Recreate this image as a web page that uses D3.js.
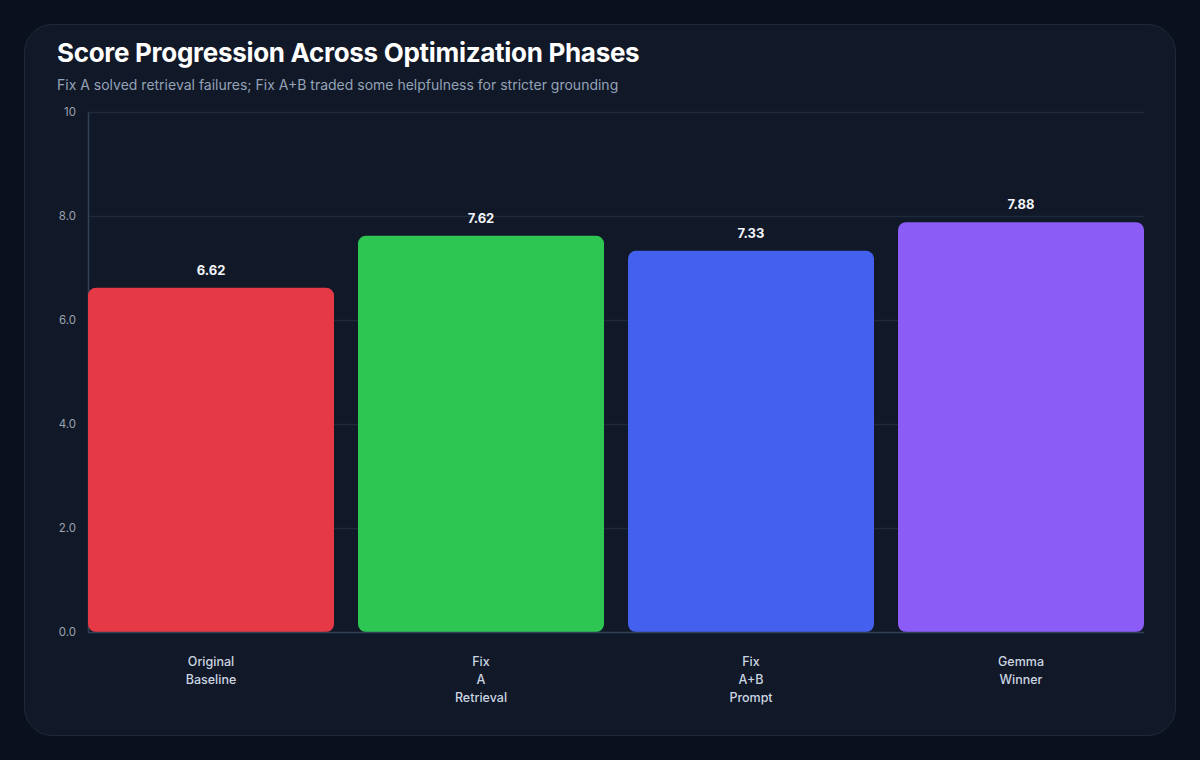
<!DOCTYPE html>
<html>
<head>
<meta charset="utf-8">
<script src="https://cdn.jsdelivr.net/npm/d3@7"></script>
<style>
  html, body { margin: 0; padding: 0; background: #0b111c; }
  svg { display: block; font-family: Inter, "Noto Sans", sans-serif; }
</style>
</head>
<body>
<svg id="chart" width="1200" height="760"></svg>
<script>
/* ---------------- DATA ---------------- */
const phases = ["Original Baseline", "Fix A Retrieval", "Fix A+B Prompt", "Gemma Winner"];
const scores = [6.62, 7.62, 7.33, 7.88];
const barColors = ["#e63946", "#2dc653", "#4361ee", "#8b5cf6"];
const yTicks = [0, 2, 4, 6, 8, 10];

/* ---------------- SVG SETUP ---------------- */
const svg = d3.select("#chart");
const W = 1200, H = 760;
const plot = { left: 88, right: 1144, top: 112, bottom: 632 };

svg.append("rect").attr("width", W).attr("height", H).attr("fill", "#0b111c");

/* card */
svg.append("rect")
  .attr("x", 24.5).attr("y", 24.5)
  .attr("width", 1151).attr("height", 711)
  .attr("rx", 28)
  .attr("fill", "#111827")
  .attr("stroke", "#1f2937")
  .attr("stroke-width", 1);

/* ---------------- TITLES ---------------- */
svg.append("text")
  .attr("x", 57).attr("y", 62)
  .attr("fill", "#ffffff")
  .attr("font-size", 26)
  .attr("font-weight", 700)
  .attr("letter-spacing", -0.3)
  .text("Score Progression Across Optimization Phases");

svg.append("text")
  .attr("x", 57).attr("y", 90)
  .attr("fill", "#94a3b8")
  .attr("font-size", 14)
  .text("Fix A solved retrieval failures; Fix A+B traded some helpfulness for stricter grounding");

/* ---------------- SCALES ---------------- */
const x = d3.scaleBand()
  .domain(phases)
  .range([plot.left, plot.right])
  .paddingInner(24 / 270)
  .paddingOuter(0);

const y = d3.scaleLinear()
  .domain([0, 10])
  .range([plot.bottom, plot.top]);

/* ---------------- GRID ---------------- */
svg.append("g")
  .selectAll("line")
  .data(yTicks.filter(t => t > 0))
  .enter()
  .append("line")
  .attr("x1", plot.left).attr("x2", plot.right)
  .attr("y1", d => y(d) + 0.5).attr("y2", d => y(d) + 0.5)
  .attr("stroke", "#1e293b")
  .attr("stroke-width", 1.5);

/* ---------------- Y AXIS ---------------- */
const yAxis = svg.append("g")
  .attr("transform", `translate(${plot.left},0)`)
  .call(d3.axisLeft(y).tickValues(yTicks).tickSize(0).tickPadding(12)
    .tickFormat(d => d === 10 ? "10" : d3.format(".1f")(d)));
yAxis.select(".domain").attr("stroke", "#334155").attr("stroke-width", 1.5);
yAxis.selectAll("text")
  .attr("fill", "#9ca3af")
  .attr("font-size", 11.5)
  .attr("font-family", "Inter, sans-serif");

/* ---------------- BARS ---------------- */
const rows = phases.map((p, i) => ({ phase: p, score: scores[i], color: barColors[i] }));

svg.append("g")
  .selectAll("rect")
  .data(rows)
  .enter()
  .append("rect")
  .attr("x", d => x(d.phase))
  .attr("y", d => y(d.score))
  .attr("width", x.bandwidth())
  .attr("height", d => y(0) - y(d.score))
  .attr("rx", 8)
  .attr("fill", d => d.color);

/* bottom axis line */
svg.append("line")
  .attr("x1", plot.left).attr("x2", plot.right)
  .attr("y1", plot.bottom + 0.5).attr("y2", plot.bottom + 0.5)
  .attr("stroke", "#334155")
  .attr("stroke-width", 1.5);

/* value labels */
svg.append("g")
  .selectAll("text")
  .data(rows)
  .enter()
  .append("text")
  .attr("x", d => x(d.phase) + x.bandwidth() / 2)
  .attr("y", d => y(d.score) - 13)
  .attr("text-anchor", "middle")
  .attr("fill", "#f1f5f9")
  .attr("font-size", 13)
  .attr("font-weight", 700)
  .text(d => d3.format(".2f")(d.score));

/* ---------------- X LABELS ---------------- */
const xLabels = svg.append("g")
  .selectAll("text")
  .data(rows)
  .enter()
  .append("text")
  .attr("x", d => x(d.phase) + x.bandwidth() / 2)
  .attr("y", 666)
  .attr("text-anchor", "middle")
  .attr("fill", "#cbd5e1")
  .attr("font-size", 12.5)
  .attr("font-weight", 500);

xLabels.each(function(d) {
  const words = d.phase.split(" ");
  d3.select(this).selectAll("tspan")
    .data(words)
    .enter()
    .append("tspan")
    .attr("x", x(d.phase) + x.bandwidth() / 2)
    .attr("dy", (w, i) => i === 0 ? 0 : 18)
    .text(w => w);
});
</script>
</body>
</html>
